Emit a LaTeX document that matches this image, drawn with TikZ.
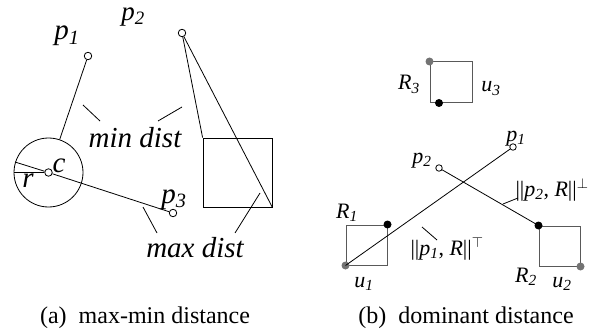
\documentclass[tikz,border=0pt]{standalone}
\usepackage{fontspec}
\setmainfont{Liberation Serif}
\begin{document}
\begin{tikzpicture}[x=1pt,y=-1pt,line width=0.8pt,
  pt/.style={circle,draw,inner sep=0pt,minimum size=7.5pt,fill=white},
  gdot/.style={circle,fill=black!55,inner sep=0pt,minimum size=8pt},
  bdot/.style={circle,fill=black,inner sep=0pt,minimum size=8pt},
  lbl/.style={font=\fontsize{29}{29}\selectfont\itshape,inner sep=0pt,anchor=base},
  lblb/.style={font=\fontsize{22}{22}\selectfont\itshape,inner sep=0pt,anchor=base},
  dlbl/.style={font=\fontsize{22}{22}\selectfont,inner sep=0pt,anchor=base},
  captext/.style={font=\fontsize{24}{24}\selectfont,inner sep=0pt,anchor=base},
  gbox/.style={draw=black!65,line width=1pt}]
\useasboundingbox (0,0) rectangle (607,334);
% ---------- (a) ----------
\node[draw,circle,inner sep=0pt,minimum size=69pt] (C) at (48.5,172.5) {};
\node[pt] (c) at (48.5,172.5) {};
\node[pt] (a1) at (88,56) {};
\node[pt] (a2) at (182,33) {};
\node[pt] (a3) at (173,213) {};
\coordinate (cl) at (14,172.5);
\coordinate (ce) at (15,162);
\draw (a1) -- (C);
\draw (ce) -- (c) -- (a3);
\draw (cl) -- (c);
\node[draw,minimum width=69pt,minimum height=69pt,inner sep=0pt] (S) at (237.5,172.5) {};
\draw (a2) -- (S.north west);
\draw (a2) -- (S.south east);
\node[lbl] (lp1) at (67,40) {p\textsubscript{1}};
\node[lbl,font=\fontsize{27}{27}\selectfont\itshape,text height=12pt] (lp2) at (133,21) {p\textsubscript{2}};
\node[lbl] (lp3) at (174,203) {p\textsubscript{3}};
\node[lbl] (lc) at (59,172) {c};
\node[lbl] (lr) at (28,187) {r};
\node[lbl] (mind) at (135,147) {min dist};
\node[lbl] (maxd) at (195,257) {max dist};
\coordinate (t1a) at (83,105); \coordinate (t1b) at (100,121);
\coordinate (t2a) at (158,121); \coordinate (t2b) at (182,107);
\coordinate (t3a) at (143,207); \coordinate (t3b) at (157,233);
\coordinate (t4a) at (260,193); \coordinate (t4b) at (235,233);
\draw (t1a) -- (t1b); \draw (t2a) -- (t2b);
\draw (t3a) -- (t3b); \draw (t4a) -- (t4b);
\node[captext] (capa) at (145,323) {(a)\ \ max-min distance};
% ---------- (b) ----------
\node[gbox,minimum width=42pt,minimum height=41pt,inner sep=0pt] (R3) at (451,82.5) {};
\node[gdot] (R3g) at (R3.north west) {};
\node[bdot] (R3b) at (439,103) {};
\node[gbox,minimum width=41pt,minimum height=40pt,inner sep=0pt] (R1) at (366.5,245) {};
\node[bdot] (R1b) at (R1.north east) {};
\node[gdot] (R1g) at (R1.south west) {};
\node[gbox,minimum width=41pt,minimum height=40pt,inner sep=0pt] (R2) at (559.5,246) {};
\node[bdot] (R2b) at (R2.north west) {};
\node[gdot] (R2g) at (R2.south east) {};
\node[pt,minimum size=6.5pt] (b1) at (513,147) {};
\node[pt,minimum size=6.5pt] (b2) at (439,168) {};
\draw (R1g.center) -- (b1);
\draw (b2) -- (R2b.center);
\node[lblb] (lR3) at (409,90) {R\textsubscript{3}};
\node[lblb] (lu3) at (491,92) {u\textsubscript{3}};
\node[lblb] (lbp1) at (516,141) {p\textsubscript{1}};
\node[lblb] (lbp2) at (422,163) {p\textsubscript{2}};
\node[lblb] (lR1) at (347,218) {R\textsubscript{1}};
\node[lblb] (lu1) at (364,287) {u\textsubscript{1}};
\node[lblb] (lR2) at (526,282) {R\textsubscript{2}};
\node[lblb] (lu2) at (562,287) {u\textsubscript{2}};
\node[dlbl] (d1) at (447,255) {||\textit{p\textsubscript{1}}, \textit{R}||$^{\top}$};
\node[dlbl] (d2) at (552,196) {||\textit{p\textsubscript{2}}, \textit{R}||$^{\perp}$};
\coordinate (u1a) at (422,227); \coordinate (u1b) at (437,240);
\coordinate (u2a) at (503,204); \coordinate (u2b) at (518,198);
\draw (u1a) -- (u1b); \draw (u2a) -- (u2b);
\node[captext] (capb) at (466,323) {(b)\ \ dominant distance};
\end{tikzpicture}
\end{document}
